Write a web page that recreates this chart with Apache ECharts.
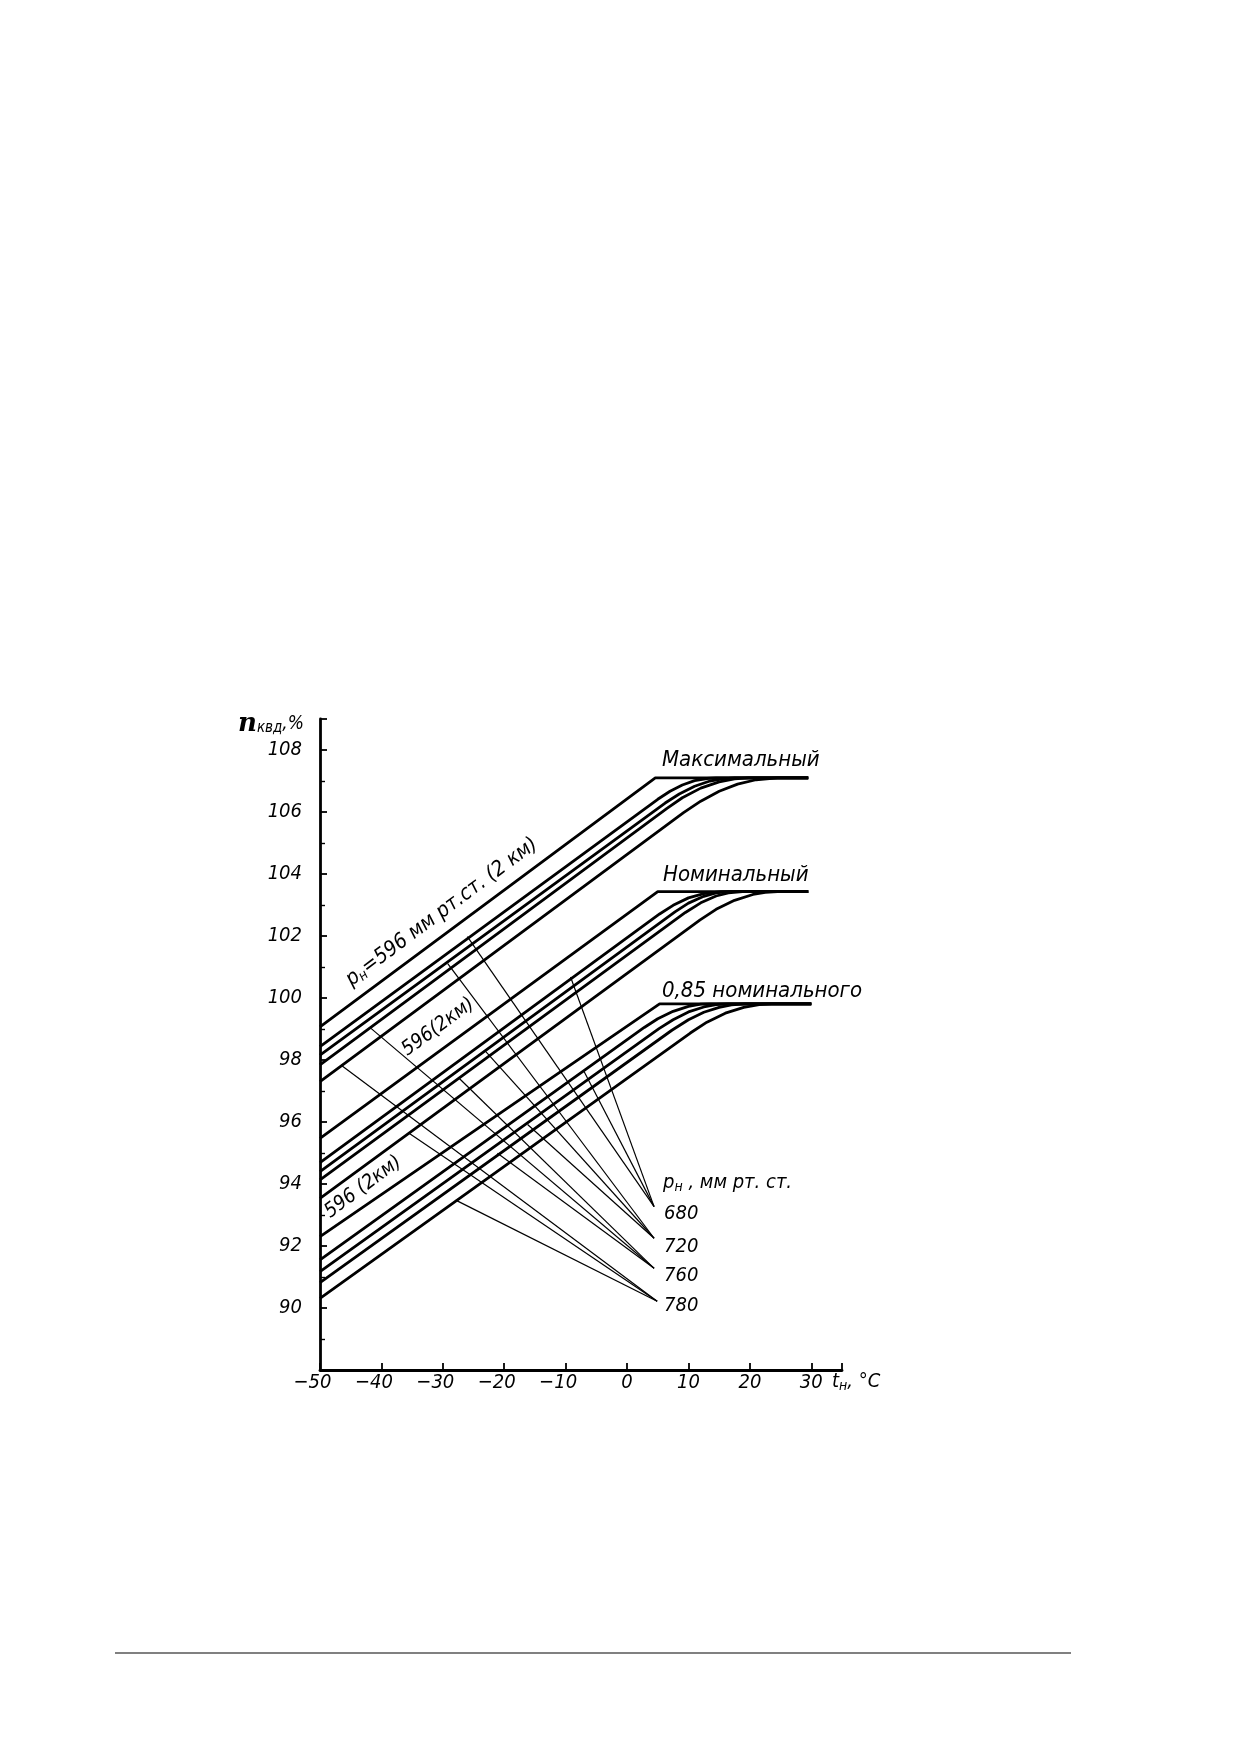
<!DOCTYPE html>
<html>
<head>
<meta charset="utf-8">
<script src="https://cdn.jsdelivr.net/npm/echarts@6/dist/echarts.min.js"></script>
<style>
  html, body { margin: 0; padding: 0; background: #fff; }
  #chart { width: 1239px; height: 1752px; }
</style>
</head>
<body>
<div id="chart"></div>
<script>
// значения: [t_н, °C ; n_квд, %]
// Максимальный
var max596 = [[-50, 99.07], [4.6, 107.1], [29.5, 107.1]];
var max680 = [[-50, 98.43], [5, 106.41], [7, 106.67], [9, 106.87], [11, 107.01], [13, 107.08], [14.5, 107.1], [29.5, 107.1]];
var max720 = [[-50, 98.16], [6.2, 106.29], [8.5, 106.58], [11, 106.83], [13.5, 107.0], [15.5, 107.07], [17.5, 107.1], [29.5, 107.1]];
var max760 = [[-50, 97.84], [6.5, 106.12], [9, 106.46], [12, 106.77], [15, 106.97], [17.5, 107.07], [19.8, 107.1], [29.5, 107.1]];
var max780 = [[-50, 97.30], [9.2, 105.98], [12, 106.35], [15, 106.67], [18, 106.9], [21, 107.04], [24.5, 107.1], [29.5, 107.1]];
// Номинальный
var nom596 = [[-50, 95.47], [5, 103.43], [29.5, 103.43]];
var nom680 = [[-50, 94.69], [5.3, 102.71], [7.5, 102.99], [10, 103.23], [12.5, 103.37], [15.3, 103.43], [29.5, 103.43]];
var nom720 = [[-50, 94.40], [7.8, 102.78], [10, 103.06], [12.5, 103.28], [14.5, 103.39], [16.8, 103.43], [29.5, 103.43]];
var nom760 = [[-50, 94.13], [9.5, 102.76], [12, 103.07], [14.5, 103.29], [16.5, 103.39], [18.8, 103.43], [29.5, 103.43]];
var nom780 = [[-50, 93.54], [11.9, 102.52], [14.5, 102.86], [17.5, 103.15], [20.5, 103.34], [22.5, 103.41], [24.5, 103.43], [29.5, 103.43]];
// 0,85 номинального
var low596 = [[-50, 92.3], [5.3, 99.81], [30, 99.81]];
var low680 = [[-50, 91.55], [2.8, 99.05], [5, 99.33], [7.5, 99.57], [10, 99.73], [12, 99.8], [13.5, 99.81], [30, 99.81]];
var low720 = [[-50, 91.17], [5.2, 99.01], [7.5, 99.3], [10, 99.55], [12.5, 99.71], [14.5, 99.79], [16.5, 99.81], [30, 99.81]];
var low760 = [[-50, 90.82], [7.3, 98.96], [10, 99.3], [12.5, 99.54], [15, 99.7], [17, 99.78], [19.3, 99.81], [30, 99.81]];
var low780 = [[-50, 90.31], [10.3, 98.87], [13, 99.22], [16, 99.51], [19, 99.7], [21.5, 99.79], [23.5, 99.81], [30, 99.81]];

// выноски: точка на кривой -> точка у подписи давления
var lead680 = [[[-26.0, 101.98], [4.4, 93.27]], [[-9.2, 100.68], [4.4, 93.27]], [[-7.0, 97.63], [4.4, 93.27]]];
var lead720 = [[[-29.2, 101.11], [4.4, 92.25]], [[-23.0, 98.27], [4.4, 92.25]], [[-16.2, 95.92], [4.4, 92.25]]];
var lead760 = [[[-41.7, 99.02], [4.4, 91.28]], [[-27.35, 97.41], [4.4, 91.28]], [[-21.1, 94.99], [4.4, 91.28]]];
var lead780 = [[[-46.6, 97.84], [4.9, 90.22]], [[-35.5, 95.64], [4.9, 90.22]], [[-27.9, 93.48], [4.9, 90.22]]];

var xTicks = { min: -50, max: 35, step: 10 };
var yTicks = { min: 88, max: 109, step: 2 };

var FONT = "'Liberation Sans Narrow', 'DejaVu Sans Condensed', 'Liberation Sans', sans-serif";

var curves = [max596, max680, max720, max760, max780,
              nom596, nom680, nom720, nom760, nom780,
              low596, low680, low720, low760, low780];
var leaders = [].concat(lead680, lead720, lead760, lead780);

var series = [];
curves.forEach(function (d) {
	series.push({
		type: 'line', data: d, symbol: 'none', silent: true,
		lineStyle: { color: '#000', width: 2.8 }
	});
});
leaders.forEach(function (d) {
	series.push({
		type: 'line', data: d, symbol: 'none', silent: true,
		lineStyle: { color: '#000', width: 1.2 }
	});
});

var txt = function (x, y, text, size, extra) {
	var el = {
		type: 'text', x: x, y: y, silent: true,
		style: {
			text: text, fill: '#000', fontSize: size, fontStyle: 'italic',
			fontFamily: FONT, textAlign: 'left', textVerticalAlign: 'middle'
		}
	};
	if (extra) {
		for (var k in extra.style || {}) el.style[k] = extra.style[k];
		if (extra.rotation) el.rotation = extra.rotation;
	}
	return el;
};

var subRich = {
	a: { fontSize: 20, fontStyle: 'italic', fontFamily: FONT, fill: '#000' },
	s: { fontSize: 14, fontStyle: 'italic', fontFamily: FONT, fill: '#000', padding: [9, 0, 0, 0] }
};

var chart = echarts.init(document.getElementById('chart'), null, { renderer: 'canvas' });
chart.setOption({
	backgroundColor: '#fff',
	animation: false,
	grid: { left: 320, top: 719, width: 522, height: 651 },
	xAxis: {
		type: 'value', min: xTicks.min, max: xTicks.max, interval: xTicks.step,
		axisLine: { onZero: false, lineStyle: { color: '#000', width: 2.8 } },
		axisTick: { inside: true, length: 7, lineStyle: { color: '#000', width: 1.8 } },
		splitLine: { show: false },
		axisLabel: {
			margin: 3, color: '#000', fontSize: 20, fontStyle: 'italic', fontFamily: FONT,
			formatter: function (v) {
				if (v > 30) return '';
				if (v < 0) return '\u2212' + (-v) + '{h|\u2212}';
				return String(v);
			},
			rich: { h: { color: 'rgba(0,0,0,0)', fontSize: 20, fontStyle: 'italic', fontFamily: FONT } }
		}
	},
	yAxis: {
		type: 'value', min: yTicks.min, max: yTicks.max, interval: yTicks.step,
		axisLine: { show: true, onZero: false, lineStyle: { color: '#000', width: 2.8 } },
		axisTick: { show: true, inside: true, length: 7, lineStyle: { color: '#000', width: 1.8 } },
		minorTick: { show: true, splitNumber: 2, length: 5, lineStyle: { color: '#000', width: 1.4 } },
		splitLine: { show: false },
		minorSplitLine: { show: false },
		axisLabel: {
			margin: 18, color: '#000', fontSize: 20, fontStyle: 'italic', fontFamily: FONT,
			formatter: function (v) {
				return (v >= 90 && v <= 108 && v % 2 === 0) ? String(v) : '';
			}
		}
	},
	series: series,
	graphic: [
		// название оси Y
		{
			type: 'text', x: 304, y: 724, silent: true,
			style: {
				text: '{n|n}{s|квд}{a|,%}', textAlign: 'right', textVerticalAlign: 'middle',
				rich: {
					n: { fontSize: 26, fontWeight: 'bold', fontStyle: 'italic', fontFamily: "'DejaVu Serif', serif", fill: '#000' },
					s: { fontSize: 15, fontStyle: 'italic', fontFamily: FONT, fill: '#000', padding: [8, 0, 0, 0] },
					a: { fontSize: 19, fontStyle: 'italic', fontFamily: FONT, fill: '#000' }
				}
			}
		},
		// название оси X
		{
			type: 'text', x: 832, y: 1382, silent: true,
			style: {
				text: '{a|t}{s|н}{a|, °C}', textAlign: 'left', textVerticalAlign: 'middle', rich: subRich
			}
		},
		txt(662, 760, 'Максимальный', 22),
		txt(663, 875, 'Номинальный', 22),
		txt(662, 991, '0,85 номинального', 22),
		{
			type: 'text', x: 663, y: 1183, silent: true,
			style: {
				text: '{a|p}{s|н}{a| , мм рт. ст.}', textAlign: 'left', textVerticalAlign: 'middle', rich: subRich
			}
		},
		txt(664, 1214, '680', 20),
		txt(664, 1247, '720', 20),
		txt(664, 1276, '760', 20),
		txt(664, 1306, '780', 20),
		// подписи вдоль кривых
		{
			type: 'text', x: 355, y: 991, rotation: 0.64, silent: true,
			style: {
				text: '{a|p}{s|н}{a|=596 мм рт.ст. (2 км)}', textAlign: 'left', textVerticalAlign: 'bottom',
				rich: {
					a: { fontSize: 21, fontStyle: 'italic', fontFamily: FONT, fill: '#000' },
					s: { fontSize: 14, fontStyle: 'italic', fontFamily: FONT, fill: '#000', padding: [9, 0, 0, 0] }
				}
			}
		},
		txt(410, 1060, '596(2км)', 20, { rotation: 0.63, style: { textVerticalAlign: 'bottom' } }),
		txt(333, 1222, '596 (2км)', 20, { rotation: 0.64, style: { textVerticalAlign: 'bottom' } }),
		// линия внизу страницы
		{
			type: 'line', silent: true,
			shape: { x1: 115, y1: 1653, x2: 1071, y2: 1653 },
			style: { stroke: '#808080', lineWidth: 2 }
		}
	]
});
</script>
</body>
</html>
